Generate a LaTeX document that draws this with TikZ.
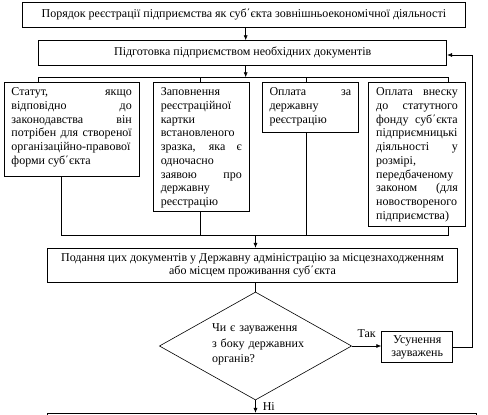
\documentclass[tikz,border=0pt]{standalone}
\usepackage{fontspec}
\setmainfont{Liberation Serif}
\usetikzlibrary{shapes.geometric,arrows.meta}
\newcommand{\jl}[1]{\makebox[\linewidth][s]{#1}}
\newcommand{\pl}[1]{\makebox[\linewidth][l]{#1}}
\newcommand{\tb}[3]{\parbox[c][#2][t]{#1}{\fontsize{12}{13.7}\selectfont\raggedright\strut #3}}
\tikzset{
  cbox/.style={draw, line width=0.8pt, rectangle, inner sep=0pt, align=center,
    font=\fontsize{12}{13.4}\selectfont},
  tbox/.style={draw, line width=0.8pt, rectangle, inner xsep=7.5pt, inner ysep=4pt},
  ln/.style={line width=0.6pt},
  arr/.style={line width=0.6pt, -{Latex[length=5pt,width=4pt]}},
  lbl/.style={font=\fontsize{12}{13.4}\selectfont, inner sep=1pt}
}
\begin{document}
\begin{tikzpicture}[x=1pt,y=-1pt]
\useasboundingbox (0,0) rectangle (488,415);
\clip (0,0) rectangle (488,415);
% boxes
\node[cbox, minimum width=442.3pt, minimum height=25pt] (title) at (243.85,14.5)
  {Порядок реєстрації підприємства як суб΄єкта зовнішньоекономічної діяльності};
\node[cbox, minimum width=408pt, minimum height=24.3pt] (prep) at (242.7,52.85)
  {Підготовка підприємством необхідних документів};
\node[tbox] (b1) at (71.65,129.5) {\tb{120.3pt}{86.4pt}{%
  \jl{Статут, якщо}\\
  \jl{відповідно до}\\
  \jl{законодавства він}\\
  \jl{потрібен для створеної}\\
  \pl{організаційно-правової}\\
  \pl{форми суб΄єкта}}};
\node[tbox] (b2) at (201.3,147) {\tb{81pt}{121.4pt}{%
  \pl{Заповнення}\\
  \pl{реєстраційної}\\
  \pl{картки}\\
  \pl{встановленого}\\
  \jl{зразка, яка є}\\
  \pl{одночасно}\\
  \jl{заявою про}\\
  \pl{державну}\\
  \pl{реєстрацію}}};
\node[tbox] (b3) at (310.35,107.3) {\tb{81.7pt}{42pt}{%
  \jl{Оплата за}\\
  \pl{державну}\\
  \pl{реєстрацію}}};
\node[tbox] (b4) at (417,154.15) {\tb{81.6pt}{135.7pt}{%
  \jl{Оплата внеску}\\
  \jl{до статутного}\\
  \jl{фонду суб΄єкта}\\
  \pl{підприємницькі}\\
  \jl{діяльності у}\\
  \pl{розмірі,}\\
  \pl{передбаченому}\\
  \jl{законом (для}\\
  \pl{новоствореного}\\
  \pl{підприємства)}}};
\node[cbox, minimum width=409.6pt, minimum height=34pt] (b5) at (252.5,265.3)
  {Подання цих документів у Державну адміністрацію за місцезнаходженням\\
   або місцем проживання суб΄єкта};
\node[draw, diamond, line width=0.6pt, inner sep=0pt, minimum width=192.3pt,
  minimum height=108pt] (q) at (255.5,346) {};
\node[inner sep=0pt, text width=87pt, font=\fontsize{12}{15.3}\selectfont] (qt) at (255.5,344.5)
  {\jl{Чи є зауваження}\\ \pl{з боку державних}\\ \pl{органів?}};
\node[cbox, minimum width=71pt, minimum height=31pt] (fix) at (417.2,347.2)
  {Усунення\\зауважень};
\node[cbox, minimum width=429pt, minimum height=33.4pt] (last) at (262.2,430) {};
% coordinates
\coordinate (ax) at (245.7,0);
\coordinate (bus1) at (0,77.3);
\coordinate (bus2) at (0,235.7);
\coordinate (s1) at (38.7,0);
\coordinate (s2) at (200.3,0);
\coordinate (s3) at (306.7,0);
\coordinate (s4) at (448.7,0);
\coordinate (t1) at (61.7,0);
\coordinate (t2) at (200.3,0);
\coordinate (t3) at (306,0);
\coordinate (t4) at (448.7,0);
\coordinate (xb) at (255.5,0);
\coordinate (ret) at (472,55);
% connectors
\draw[arr] (title.south -| ax) -- (prep.north -| ax);
\draw[arr] (prep.south -| ax) -- (ax |- bus1);
\draw[ln] (s1 |- b1.north) -- (s1 |- bus1) -- (s4 |- bus1) -- (s4 |- b4.north);
\draw[ln] (s2 |- bus1) -- (s2 |- b2.north);
\draw[ln] (s3 |- bus1) -- (s3 |- b3.north);
\draw[ln] (t1 |- b1.south) -- (t1 |- bus2) -- (t4 |- bus2) -- (t4 |- b4.south);
\draw[ln] (t2 |- b2.south) -- (t2 |- bus2);
\draw[ln] (t3 |- b3.south) -- (t3 |- bus2);
\draw[arr] (xb |- bus2) -- (xb |- b5.north);
\draw[ln] (xb |- b5.south) -- (q.north);
\draw[arr] (q.east) -- (fix.west |- q.east) node[lbl, midway, above=7pt] {Так};
\draw[arr] (fix.east) -- (fix.east -| ret) -- (ret) -- (ret -| prep.east);
\draw[arr] (q.south) -- (q.south |- last.north) node[lbl, midway, right=6pt] {Ні};
\end{tikzpicture}
\end{document}
